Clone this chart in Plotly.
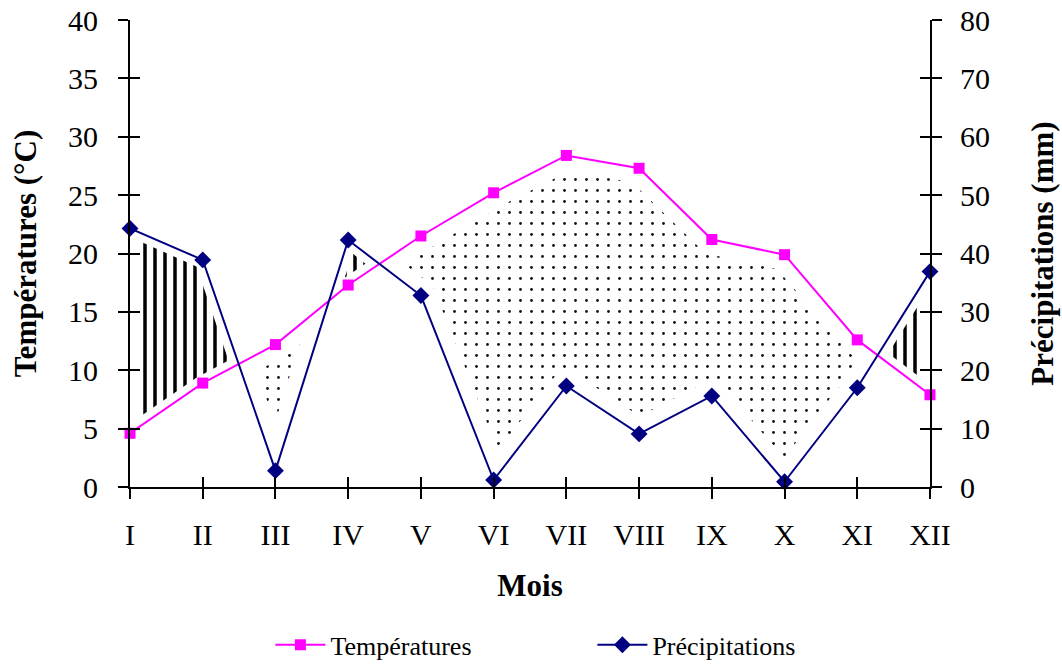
import numpy as np
import plotly.graph_objects as go

# ---------------- data ----------------
months = ["I", "II", "III", "IV", "V", "VI", "VII", "VIII", "IX", "X", "XI", "XII"]
temperatures = [4.6, 8.9, 12.2, 17.3, 21.5, 25.2, 28.4, 27.3, 21.2, 19.9, 12.6, 7.9]
precipitations = [44.3, 38.9, 2.8, 42.3, 32.8, 1.2, 17.3, 9.1, 15.6, 0.9, 17.0, 36.9]
temp_ticks = [0, 5, 10, 15, 20, 25, 30, 35, 40]
prec_ticks = [0, 10, 20, 30, 40, 50, 60, 70, 80]

# ---------------- layout constants ----------------
W, H = 1062, 666
ML, MR, MT, MB = 130, 132, 20, 179
T_RANGE = [0, 40]
P_RANGE = [0, 80]
FONT = "Liberation Serif"
PINK = "#FF00FF"
NAVY = "#000080"

idx = np.arange(len(months), dtype=float)
x_range = [0, len(months) - 1]
px_x = (W - ML - MR) / (x_range[1] - x_range[0])
px_y = (H - MT - MB) / (T_RANGE[1] - T_RANGE[0])

# precipitation expressed on temperature scale (P = 2T)
ratio = (P_RANGE[1] - P_RANGE[0]) / (T_RANGE[1] - T_RANGE[0])
t_arr = np.array(temperatures)
p_arr = np.array(precipitations) / ratio

# fine grid in pixel space for the eroded shaded regions
xs = np.linspace(x_range[0], x_range[1], 1601)
xp = xs * px_x
Tp = np.interp(xs, idx, t_arr) * px_y
Pp = np.interp(xs, idx, p_arr) * px_y


def eroded_regions(U, L, r):
    n = len(xp)
    dx = xp[1] - xp[0]
    k = int(r / dx)
    top = np.full(n, np.inf)
    bot = np.full(n, -np.inf)
    for s in range(-k, k + 1):
        h = np.sqrt(max(r * r - (s * dx) ** 2, 0.0))
        Us = np.full(n, -np.inf)
        Ls = np.full(n, np.inf)
        if s >= 0:
            Us[: n - s] = U[s:]
            Ls[: n - s] = L[s:]
        else:
            Us[-s:] = U[: n + s]
            Ls[-s:] = L[: n + s]
        top = np.minimum(top, Us - h)
        bot = np.maximum(bot, Ls + h)
    ok = top > bot
    polys = []
    i = 0
    while i < n:
        if ok[i]:
            j = i
            while j + 1 < n and ok[j + 1]:
                j += 1
            if j - i >= 2:
                xx = np.concatenate([xp[i:j + 1], xp[i:j + 1][::-1]]) / px_x
                yy = np.concatenate([top[i:j + 1], bot[i:j + 1][::-1]]) / px_y
                polys.append((xx, yy))
            i = j + 1
        else:
            i += 1
    return polys


fig = go.Figure()

# humid periods (precipitation above temperature): vertical hatching
for xx, yy in eroded_regions(Pp, Tp, 8):
    fig.add_trace(go.Scatter(
        x=xx, y=yy, mode="lines", fill="toself", line=dict(width=0),
        fillcolor="black",
        fillpattern=dict(shape="|", fgcolor="black", fgopacity=1, bgcolor="white",
                         size=10, solidity=0.35),
        hoverinfo="skip", showlegend=False, xaxis="x", yaxis="y"))

# dry periods (temperature above precipitation): dots
for xx, yy in eroded_regions(Tp, Pp, 15):
    fig.add_trace(go.Scatter(
        x=xx, y=yy, mode="lines", fill="toself", line=dict(width=0),
        fillcolor="black",
        fillpattern=dict(shape=".", fgcolor="#111111", fgopacity=1, bgcolor="white",
                         size=11, solidity=0.05),
        hoverinfo="skip", showlegend=False, xaxis="x", yaxis="y"))

fig.add_trace(go.Scatter(
    x=idx, y=temperatures, name="Températures", mode="lines+markers",
    line=dict(color=PINK, width=2),
    marker=dict(symbol="square", size=11, color=PINK),
    cliponaxis=False, xaxis="x", yaxis="y"))

fig.add_trace(go.Scatter(
    x=idx, y=precipitations, name="Précipitations", mode="lines+markers",
    line=dict(color=NAVY, width=2),
    marker=dict(symbol="diamond", size=13, color=NAVY),
    cliponaxis=False, xaxis="x", yaxis="y2"))

# invisible helpers for the inner half of the crossing ticks
fig.add_trace(go.Scatter(x=idx, y=temperatures, mode="markers", marker=dict(opacity=0),
                         hoverinfo="skip", showlegend=False, xaxis="x3", yaxis="y3"))
fig.add_trace(go.Scatter(x=idx, y=precipitations, mode="markers", marker=dict(opacity=0),
                         hoverinfo="skip", showlegend=False, xaxis="x3", yaxis="y4"))

tick_font = dict(family=FONT, size=30, color="black")
title_font = dict(family=FONT, size=31, color="black")

common_x = dict(range=x_range, tickmode="array", tickvals=list(idx), showgrid=False,
                zeroline=False, fixedrange=True)

fig.update_layout(
    width=W, height=H,
    margin=dict(l=ML, r=MR, t=MT, b=MB, autoexpand=False),
    paper_bgcolor="white", plot_bgcolor="white",
    font=dict(family=FONT, color="black"),
    xaxis=dict(**common_x, ticktext=months, ticks="outside", ticklen=10, tickwidth=2,
               tickcolor="black", showline=True, linecolor="black", linewidth=2,
               tickfont=tick_font, ticklabelstandoff=10,
               title=dict(text="<b>Mois</b>", font=title_font, standoff=24)),
    xaxis3=dict(**common_x, overlaying="x", anchor="y3", ticks="inside", ticklen=10,
                tickwidth=2, tickcolor="black", showticklabels=False, showline=False),
    yaxis=dict(range=T_RANGE, tickmode="array", tickvals=temp_ticks, ticks="outside",
               ticklen=10, tickwidth=2, tickcolor="black", showline=True, linecolor="black",
               linewidth=2, showgrid=False, zeroline=False, tickfont=tick_font,
               ticklabelstandoff=14,
               title=dict(text="<b>Températures (°C)</b>", font=title_font, standoff=22)),
    yaxis2=dict(range=P_RANGE, tickmode="array", tickvals=prec_ticks, overlaying="y",
                side="right", anchor="x", ticks="outside", ticklen=10, tickwidth=2,
                tickcolor="black", showline=True, linecolor="black", linewidth=2,
                showgrid=False, zeroline=False, tickfont=tick_font, ticklabelstandoff=12,
                title=dict(text="<b>Précipitations (mm)</b>", font=title_font, standoff=42)),
    yaxis3=dict(range=T_RANGE, tickmode="array", tickvals=temp_ticks, overlaying="y",
                anchor="x3", side="left", ticks="inside", ticklen=10, tickwidth=2,
                tickcolor="black", showticklabels=False, showline=False, showgrid=False,
                zeroline=False),
    yaxis4=dict(range=P_RANGE, tickmode="array", tickvals=prec_ticks, overlaying="y",
                anchor="x3", side="right", ticks="inside", ticklen=10, tickwidth=2,
                tickcolor="black", showticklabels=False, showline=False, showgrid=False,
                zeroline=False),
    legend=dict(orientation="h", x=0.578, xanchor="center", y=-0.338, yanchor="middle",
                font=dict(family=FONT, size=26, color="black"), entrywidth=257,
                itemwidth=50, bgcolor="rgba(0,0,0,0)"),
    showlegend=True,
)

fig.write_html("out.html")
